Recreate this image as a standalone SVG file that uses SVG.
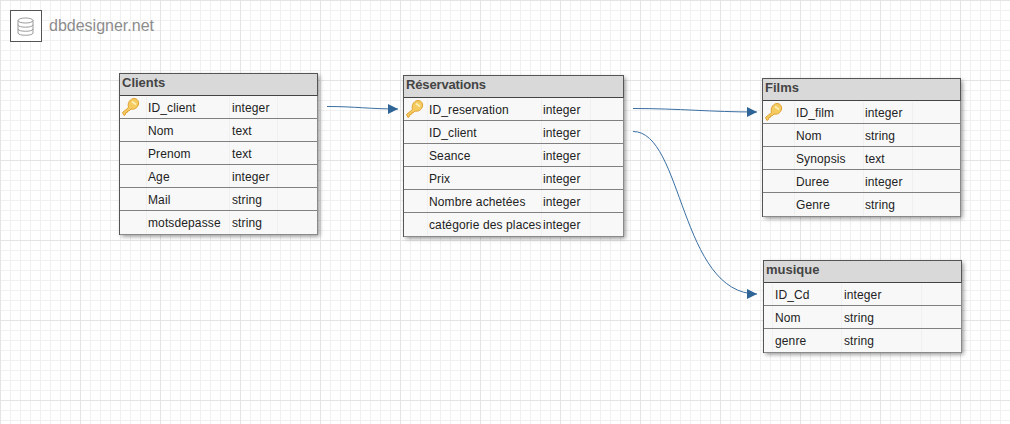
<svg xmlns="http://www.w3.org/2000/svg" width="1010" height="424" viewBox="0 0 1010 424">
<style>
text{font-family:"Liberation Sans",Arial,sans-serif;font-size:12px;fill:#222;letter-spacing:.12px}
.title{font-weight:bold;font-size:13px;fill:#444;letter-spacing:0}
.box{fill:#f8f8f8;stroke:none}
.frame{fill:none;stroke:#555;stroke-width:1}
.edge{fill:none;stroke:#8a8a8a;stroke-width:1}
.head{fill:#d9d9d9;stroke:#444;stroke-width:1}
.row{stroke:#808080;stroke-width:1}
.col{stroke:#f0f0f0;stroke-width:1}
.conn{fill:none;stroke:#3a6fa3;stroke-width:1}
</style>
<defs>
<pattern id="grid" width="80" height="80" patternUnits="userSpaceOnUse">
<path d="M10.5 0V80M20.5 0V80M30.5 0V80M40.5 0V80M50.5 0V80M60.5 0V80M70.5 0V80M0 10.5H80M0 20.5H80M0 30.5H80M0 40.5H80M0 50.5H80M0 60.5H80M0 70.5H80" stroke="#f0f0f0" fill="none"/>
<path d="M0.5 0V80M0 0.5H80" stroke="#e4e4e4" fill="none"/>
</pattern>
<filter id="sh" x="-10%" y="-10%" width="120%" height="120%"><feDropShadow dx="2" dy="2" stdDeviation="2.200" flood-color="#000" flood-opacity="0.42"/></filter>
<marker id="arrow" markerUnits="userSpaceOnUse" markerWidth="11" markerHeight="10" refX="10" refY="5" orient="auto"><path d="M0 0L10 5L0 10Z" fill="#2f6496"/></marker>
<g id="key">
<path d="M-7.500 5.500L-1.500 0.500C-3 -5 1 -8.500 4 -8.500C7.500 -8.500 9 -5.500 8.500 -3C8 0.500 4.500 3 1 2L-1 4L-2.200 3.800L-2.800 5.500L-4.200 5.500L-4.500 7.500L-6 8.500Z" fill="#f5cb5f" stroke="#e0a232" stroke-width="1"/>
<path d="M2 -5.500L6 -2.500" stroke="#fdeeb4" stroke-width="2" fill="none"/>
</g>
</defs>
<rect width="1010" height="424" fill="#fff"/>
<rect width="1010" height="424" fill="url(#grid)"/>
<g id="logo">
<rect x="10.500" y="10.500" width="31" height="31" fill="#fff" stroke="#555" stroke-width="1"/>
<g fill="none" stroke="#999" stroke-width="1">
<ellipse cx="25.500" cy="20.500" rx="7.500" ry="2.500"/>
<path d="M18 20.500V33C18 36 33 36 33 33V20.500M18 24.700C18 28 33 28 33 24.700M18 29C18 32 33 32 33 29"/>
</g>
<text x="49" y="31" style="font-size:16px;fill:#8c8c8c;letter-spacing:0">dbdesigner.net</text>
</g>
<g id="connectors">
<path class="conn" marker-end="url(#arrow)" d="M327 106.500C355 106.500 370 109 398 109"/>
<path class="conn" marker-end="url(#arrow)" d="M633 108.500C680 108.500 710 112 757 112"/>
<path class="conn" marker-end="url(#arrow)" d="M633 131.500C683 131.500 680 294 757 294"/>
</g>
<g id="clients">
<rect class="box" x="119.500" y="73.500" width="198" height="161" filter="url(#sh)"/>
<path class="col" d="M146.500 97V234M229.500 97V234M277.500 97V234"/>
<path class="row" d="M120 118.500H317M120 141.500H317M120 164.500H317M120 187.500H317M120 210.500H317"/>
<rect class="head" x="119.500" y="73.500" width="198" height="22"/>
<rect class="frame" x="119.500" y="73.500" width="198" height="161"/>
<path class="edge" d="M317.500 96V234.500H120"/>
<text class="title" x="122" y="87">Clients</text>
<use href="#key" x="130" y="107"/>
<text x="148" y="112">ID_client</text><text x="232" y="112">integer</text>
<text x="148" y="135">Nom</text><text x="232" y="135">text</text>
<text x="148" y="158">Prenom</text><text x="232" y="158">text</text>
<text x="148" y="181">Age</text><text x="232" y="181">integer</text>
<text x="148" y="204">Mail</text><text x="232" y="204">string</text>
<text x="148" y="227">motsdepasse</text><text x="232" y="227">string</text>
</g>
<g id="reservations">
<rect class="box" x="403.500" y="75.500" width="220" height="161" filter="url(#sh)"/>
<path class="col" d="M427.500 99V236M541.500 99V236M590.500 99V236"/>
<path class="row" d="M404 120.500H623M404 143.500H623M404 166.500H623M404 189.500H623M404 212.500H623"/>
<rect class="head" x="403.500" y="75.500" width="220" height="22"/>
<rect class="frame" x="403.500" y="75.500" width="220" height="161"/>
<path class="edge" d="M623.500 98V236.500H404"/>
<text class="title" x="406" y="89" style="letter-spacing:-.15px">Réservations</text>
<use href="#key" x="414" y="109"/>
<text x="429" y="114">ID_reservation</text><text x="543" y="114">integer</text>
<text x="429" y="137">ID_client</text><text x="543" y="137">integer</text>
<text x="429" y="160">Seance</text><text x="543" y="160">integer</text>
<text x="429" y="183">Prix</text><text x="543" y="183">integer</text>
<text x="429" y="206">Nombre achetées</text><text x="543" y="206">integer</text>
<text x="429" y="229">catégorie des places</text><text x="543" y="229">integer</text>
</g>
<g id="films">
<rect class="box" x="762.500" y="78.500" width="198" height="138" filter="url(#sh)"/>
<path class="col" d="M794.500 102V216M863.500 102V216M912.500 102V216"/>
<path class="row" d="M763 123.500H960M763 146.500H960M763 169.500H960M763 192.500H960"/>
<rect class="head" x="762.500" y="78.500" width="198" height="22"/>
<rect class="frame" x="762.500" y="78.500" width="198" height="138"/>
<path class="edge" d="M960.500 101V216.500H763"/>
<text class="title" x="765" y="92">Films</text>
<use href="#key" x="773" y="112"/>
<text x="796" y="117">ID_film</text><text x="865" y="117">integer</text>
<text x="796" y="140">Nom</text><text x="865" y="140">string</text>
<text x="796" y="163">Synopsis</text><text x="865" y="163">text</text>
<text x="796" y="186">Duree</text><text x="865" y="186">integer</text>
<text x="796" y="209">Genre</text><text x="865" y="209">string</text>
</g>
<g id="musique">
<rect class="box" x="763.500" y="260.500" width="198" height="92" filter="url(#sh)"/>
<path class="col" d="M772.500 284V352M841.500 284V352M921.500 284V352"/>
<path class="row" d="M764 305.500H961M764 328.500H961"/>
<rect class="head" x="763.500" y="260.500" width="198" height="22"/>
<rect class="frame" x="763.500" y="260.500" width="198" height="92"/>
<path class="edge" d="M961.500 283V352.500H764"/>
<text class="title" x="766" y="274">musique</text>
<text x="775" y="299">ID_Cd</text><text x="844" y="299">integer</text>
<text x="775" y="322">Nom</text><text x="844" y="322">string</text>
<text x="775" y="345">genre</text><text x="844" y="345">string</text>
</g>
</svg>
